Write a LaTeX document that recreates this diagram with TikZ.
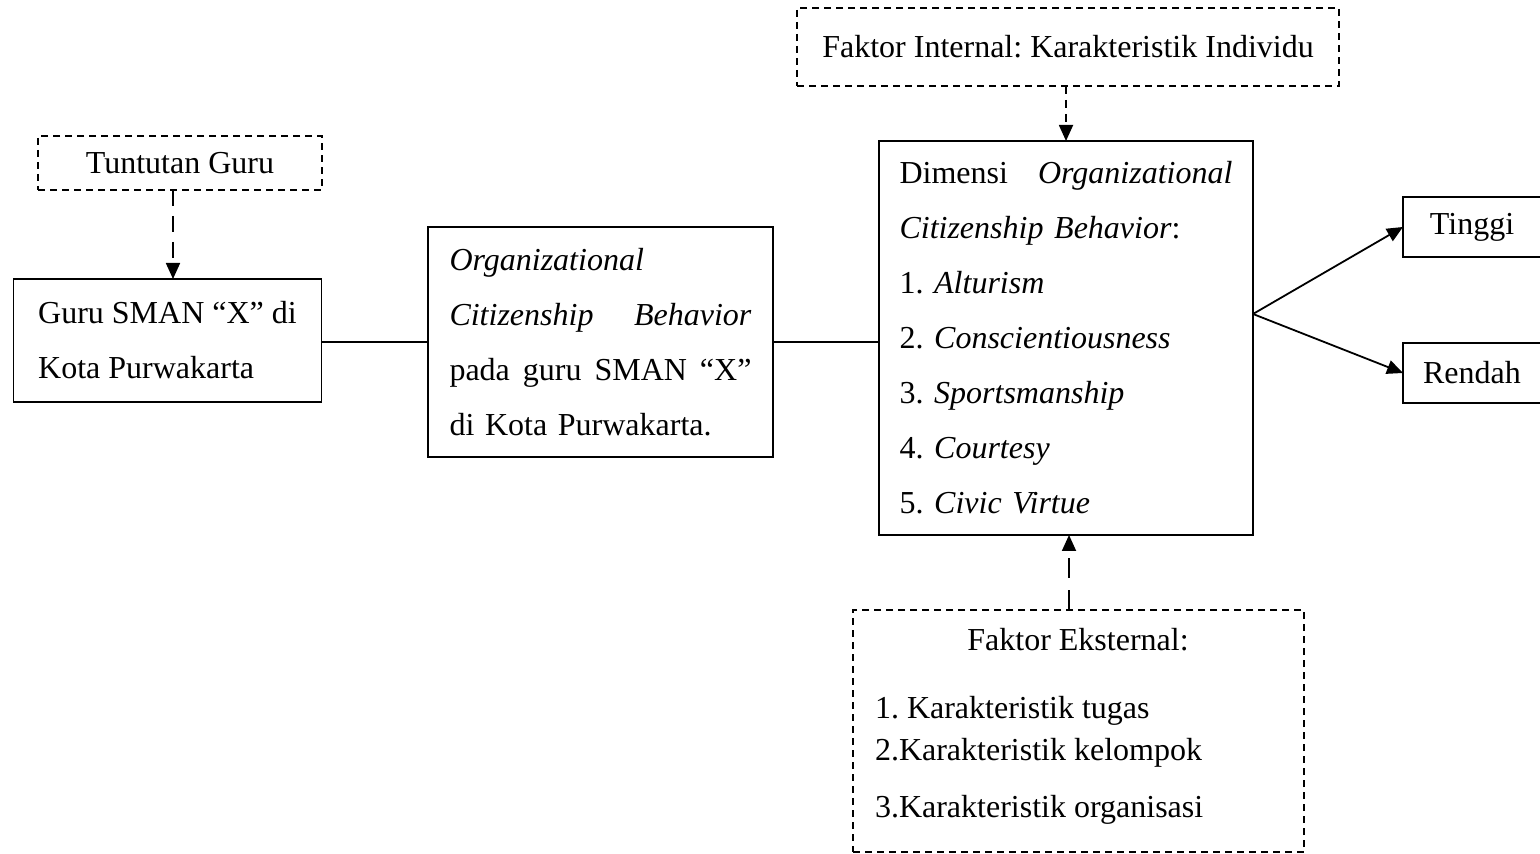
\documentclass[tikz,border=0pt]{standalone}
\usepackage{fontspec}
\setmainfont{Liberation Serif}
\usetikzlibrary{arrows.meta}
\frenchspacing
\begin{document}
\begin{tikzpicture}[x=0.5pt,y=-0.5pt,
  every node/.style={font=\fontsize{16}{27.5}\selectfont, inner sep=0pt, outer sep=0pt},
  solidbox/.style={draw, line width=0.9pt},
  dbox/.style={draw, line width=0.9pt, dash pattern=on 3.5pt off 2.5pt},
  tip/.style={-{Triangle[length=8pt,width=7pt]}},
  conn/.style={line width=0.9pt},
  longdash/.style={line width=0.9pt, dash pattern=on 8pt off 5pt},
  shortdash/.style={line width=0.9pt, dash pattern=on 4pt off 3pt},
  extdash/.style={line width=0.9pt, dash pattern=on 10pt off 6pt}]
\useasboundingbox (0,0) rectangle (1540,854);

% boxes
\node[dbox, minimum width=142pt, minimum height=27pt] (tun) at (180,163) {Tuntutan Guru};
\node[solidbox, minimum width=154pt, minimum height=61.5pt, align=left] (guru) at (167.5,340.5)
  {Guru SMAN “X” di\\Kota Purwakarta};
\node[solidbox, minimum width=172.5pt, minimum height=115pt, text width=151pt, align=left] (ocb) at (600.5,342)
  {\textit{Organizational}\\
   \textit{Citizenship}\hfill\textit{Behavior}\\
   pada\hfill guru\hfill SMAN\hfill “X”\\
   di Kota Purwakarta.};
\node[solidbox, minimum width=187pt, minimum height=197pt, text width=166.5pt, align=left] (dim) at (1066,338)
  {Dimensi\hfill\textit{Organizational}\\
   \textit{Citizenship Behavior}:\\
   1. \textit{Alturism}\\
   2. \textit{Conscientiousness}\\
   3. \textit{Sportsmanship}\\
   4. \textit{Courtesy}\\
   5. \textit{Civic Virtue}};
\node[dbox, minimum width=271pt, minimum height=39pt] (int) at (1068,47) {Faktor Internal: Karakteristik Individu};
\node[dbox, minimum width=225.5pt, minimum height=121pt] (ext) at (1078.5,731) {};
\node[anchor=base] (ext0) at (1078,650) {Faktor Eksternal:};
\node[anchor=base west] (ext1) at (875,718) {1. Karakteristik tugas};
\node[anchor=base west] (ext2) at (875,760) {2.Karakteristik kelompok};
\node[anchor=base west] (ext3) at (875,817) {3.Karakteristik organisasi};
\node[solidbox, minimum width=69pt, minimum height=30pt] (tin) at (1472,227) {Tinggi};
\node[solidbox, minimum width=69pt, minimum height=30pt] (ren) at (1472,373) {Rendah};

% connectors
\coordinate (tx) at (173,0);
\draw[longdash, tip] (tx |- tun.south) -- (tx |- guru.north);
\draw[conn] (guru.east |- ocb.west) -- (ocb.west);
\draw[conn] (ocb.east) -- (ocb.east -| dim.west);
\draw[shortdash, tip] (int.south -| dim.north) -- (dim.north);
\coordinate (ex) at (1069,0);
\draw[extdash, tip] (ex |- ext.north) -- (ex |- dim.south);
\coordinate (br) at (1253,314);
\draw[conn, tip] (br) -- (tin.west);
\draw[conn, tip] (br) -- (ren.west);
\end{tikzpicture}
\end{document}
